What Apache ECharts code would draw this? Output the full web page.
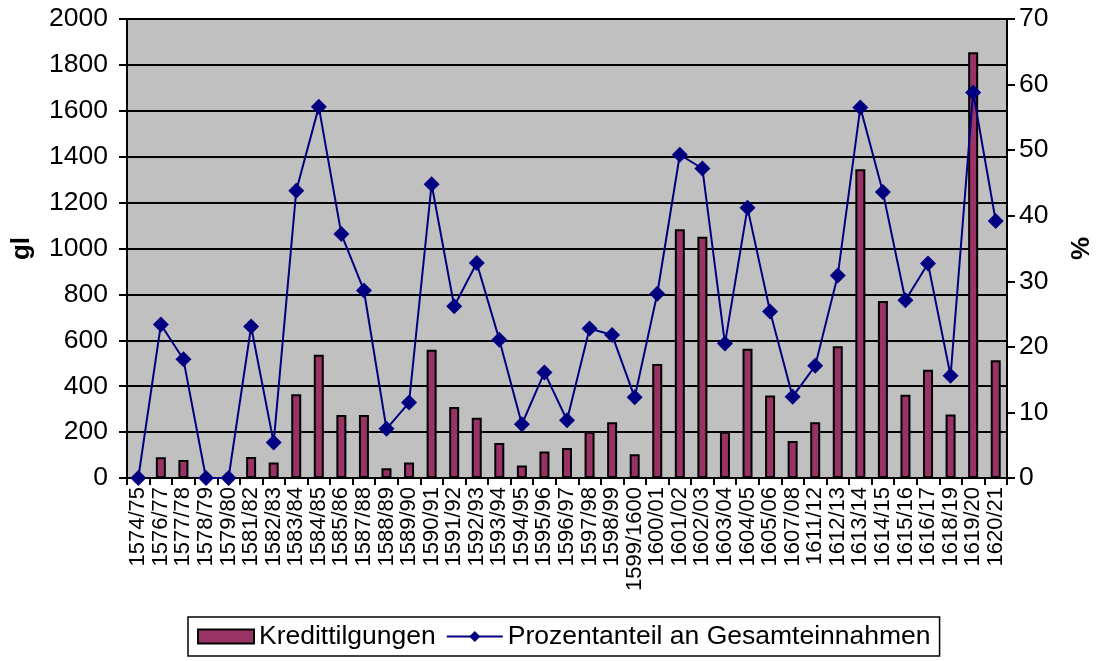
<!DOCTYPE html>
<html>
<head>
<meta charset="utf-8">
<script src="https://cdn.jsdelivr.net/npm/echarts@6/dist/echarts.min.js"></script>
<style>
  html, body { margin: 0; padding: 0; background: #fff; }
  #chart { width: 1097px; height: 661px; }
</style>
</head>
<body>
<div id="chart"></div>
<script>
const years = [
  '1574/75', '1576/77', '1577/78', '1578/79', '1579/80', '1581/82', '1582/83',
  '1583/84', '1584/85', '1585/86', '1587/88', '1588/89', '1589/90', '1590/91',
  '1591/92', '1592/93', '1593/94', '1594/95', '1595/96', '1596/97', '1597/98',
  '1598/99', '1599/1600', '1600/01', '1601/02', '1602/03', '1603/04', '1604/05',
  '1605/06', '1607/08', '1611/12', '1612/13', '1613/14', '1614/15', '1615/16',
  '1616/17', '1618/19', '1619/20', '1620/21',
];
// Kredittilgungen (gl)
const repayments = [
  0, 90, 78, 0, 0, 91, 68,
  365, 537, 274, 274, 42, 67, 559,
  309, 263, 152, 54, 116, 131, 202,
  243, 103, 497, 1084, 1051, 202, 563,
  360, 161, 243, 574, 1345, 771, 363,
  472, 277, 1855, 513,
];
// Prozentanteil an Gesamteinnahmen (%)
const shares = [
  0, 23.4, 18.1, 0, 0, 23.1, 5.4,
  43.8, 56.6, 37.2, 28.6, 7.5, 11.5, 44.8,
  26.2, 32.8, 21.1, 8.2, 16.1, 8.8, 22.8,
  21.8, 12.3, 28.1, 49.3, 47.2, 20.5, 41.2,
  25.4, 12.4, 17.1, 30.9, 56.5, 43.6, 27.1,
  32.7, 15.6, 58.8, 39.2,
];

const font = '"Liberation Sans", Arial, sans-serif';
const chart = echarts.init(document.getElementById('chart'));
chart.setOption({
  animation: false,
  textStyle: { fontFamily: font, color: '#000' },
  grid: {
    left: 127,
    right: 90,
    top: 19,
    bottom: 183,
    outerBoundsMode: 'none',
    containLabel: false,
    show: true,
    backgroundColor: '#c0c0c0',
    borderColor: '#808080',
    borderWidth: 1,
  },
  legend: {
    left: 188,
    top: 617,
    padding: [6, 9, 6, 9],
    itemGap: 10,
    itemWidth: 56,
    itemHeight: 14,
    borderColor: '#000',
    borderWidth: 1.5,
    backgroundColor: '#fff',
    textStyle: { fontFamily: font, fontSize: 26.5, color: '#000' },
    data: [
      { name: 'Kredittilgungen', icon: 'rect' },
      { name: 'Prozentanteil an Gesamteinnahmen' },
    ],
  },
  xAxis: {
    type: 'category',
    data: years,
    axisLine: { lineStyle: { color: '#000', width: 2 } },
    axisTick: { show: true, length: 7, lineStyle: { color: '#000', width: 2 } },
    axisLabel: {
      interval: 0,
      rotate: 90,
      margin: 9,
      fontSize: 22,
      fontFamily: font,
      color: '#000',
    },
  },
  yAxis: [
    {
      type: 'value',
      name: 'gl',
      nameLocation: 'middle',
      nameRotate: 90,
      nameGap: 92,
      nameTextStyle: { fontFamily: font, fontSize: 26, fontWeight: 'bold', color: '#000' },
      min: 0,
      max: 2000,
      interval: 200,
      axisLine: { show: true, lineStyle: { color: '#000', width: 2 } },
      axisTick: { show: true, length: 8, lineStyle: { color: '#000', width: 2 } },
      axisLabel: {
        margin: 19,
        fontSize: 26.5,
        fontFamily: font,
        color: '#000',
        formatter: (v) => String(v),
      },
      splitLine: { show: true, lineStyle: { color: '#000', width: 2 } },
    },
    {
      type: 'value',
      name: '%',
      nameLocation: 'middle',
      nameRotate: 90,
      nameGap: 62,
      nameTextStyle: { fontFamily: font, fontSize: 26, fontWeight: 'bold', color: '#000' },
      min: 0,
      max: 70,
      interval: 10,
      axisLine: { show: true, lineStyle: { color: '#000', width: 2 } },
      axisTick: { show: true, length: 8, lineStyle: { color: '#000', width: 2 } },
      axisLabel: { margin: 12, fontSize: 26.5, fontFamily: font, color: '#000' },
      splitLine: { show: false },
    },
  ],
  series: [
    {
      name: 'Kredittilgungen',
      type: 'bar',
      yAxisIndex: 0,
      barWidth: 10,
      data: repayments,
      itemStyle: { color: '#993366', borderColor: '#000', borderWidth: 2 },
    },
    {
      name: 'Prozentanteil an Gesamteinnahmen',
      type: 'line',
      yAxisIndex: 1,
      data: shares,
      symbol: 'diamond',
      symbolSize: 16,
      lineStyle: { color: '#000080', width: 2 },
      itemStyle: { color: '#000080', borderWidth: 0 },
    },
  ],
});
</script>
</body>
</html>
